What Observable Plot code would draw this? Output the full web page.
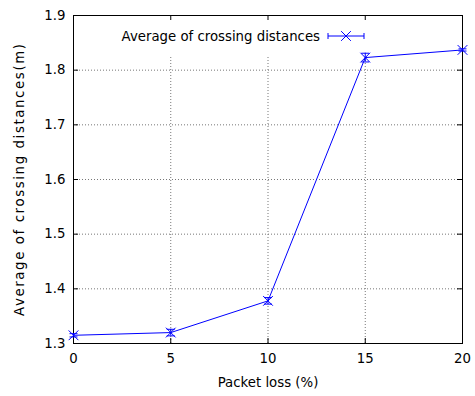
<!DOCTYPE html>
<html>
<head>
<meta charset="utf-8">
<script src="https://cdn.jsdelivr.net/npm/d3@7"></script>
<script src="https://cdn.jsdelivr.net/npm/@observablehq/plot@0.6"></script>
<style>
  html, body { margin: 0; padding: 0; background: #fff; }
  #chart svg { font-family: "DejaVu Sans", Verdana, sans-serif; }
</style>
</head>
<body>
<div id="chart"></div>
<script>
// Data
const packetLoss = [0, 5, 10, 15, 20];
const avgDistance = [1.315, 1.320, 1.378, 1.823, 1.837];
const errDistance = [0.003, 0.006, 0.006, 0.008, 0.002];
const xTicks = [0, 5, 10, 15, 20];
const yTicks = [1.3, 1.4, 1.5, 1.6, 1.7, 1.8, 1.9];
const seriesName = "Average of crossing distances";
const xLabel = "Packet loss (%)";
const yLabel = "Average of crossing distances(m)";

const data = packetLoss.map((x, i) => ({x, y: avgDistance[i], lo: avgDistance[i] - errDistance[i], hi: avgDistance[i] + errDistance[i]}));

const W = 475, H = 396, mL = 73, mR = 13, mT = 15, mB = 53;
const innerH = H - mT - mB;
const FS = 13.3;
const blue = "#0000ff";
const capSymbol = {draw(ctx, size) { const r = Math.sqrt(size) / 2; ctx.moveTo(-r, 0); ctx.lineTo(r, 0); }};
const tickLen = 5;

const plot = Plot.plot({
  width: W, height: H,
  marginLeft: mL, marginRight: mR, marginTop: mT, marginBottom: mB,
  style: {fontFamily: "DejaVu Sans, Verdana, sans-serif", fontSize: FS + "px", background: "#fff", color: "#000"},
  x: {domain: [0, 20]},
  y: {domain: [1.3, 1.9]},
  marks: [
    Plot.gridX(xTicks, {stroke: "#777", strokeOpacity: 1, strokeDasharray: "1,2"}),
    Plot.gridY(yTicks, {stroke: "#777", strokeOpacity: 1, strokeDasharray: "1,2"}),
    Plot.axisX({ticks: xTicks, tickSize: 0, tickPadding: 10, label: null, fontSize: FS, fill: "#000"}),
    Plot.axisY({ticks: yTicks, tickSize: 0, tickPadding: 8, label: null, fontSize: FS, fill: "#000", tickFormat: d3.format(".1f")}),
    Plot.ruleX(xTicks, {x: d => d, insetTop: innerH - tickLen, stroke: "#000"}),
    Plot.ruleX(xTicks, {x: d => d, insetBottom: innerH - tickLen, stroke: "#000"}),
    Plot.tickY(yTicks, {y: d => d, stroke: "#000", insetRight: (W - mL - mR) - tickLen}),
    Plot.tickY(yTicks, {y: d => d, stroke: "#000", insetLeft: (W - mL - mR) - tickLen}),
    Plot.frame({stroke: "#000", strokeWidth: 1}),
    Plot.line(data, {x: "x", y: "y", stroke: blue, strokeWidth: 1}),
    Plot.ruleX(data, {x: "x", y1: "lo", y2: "hi", stroke: blue, strokeWidth: 1}),
    Plot.dot(data, {x: "x", y: "lo", symbol: capSymbol, r: 4.5, stroke: blue, strokeWidth: 1}),
    Plot.dot(data, {x: "x", y: "hi", symbol: capSymbol, r: 4.5, stroke: blue, strokeWidth: 1}),
    Plot.dot(data, {x: "x", y: "y", symbol: "times", r: 4.5, stroke: blue, strokeWidth: 1})
  ]
});

document.getElementById("chart").appendChild(plot);
const svg = d3.select(plot);

// Legend (opaque key box covering grid)
const yGrid = plot.querySelector('[aria-label="y-grid"]');
const key = document.createElementNS("http://www.w3.org/2000/svg", "g");
if (yGrid && yGrid.nextSibling) plot.insertBefore(key, yGrid.nextSibling); else plot.appendChild(key);
const k = d3.select(key);
k.append("rect").attr("x", 110).attr("y", 16).attr("width", 265).attr("height", 39).attr("fill", "#fff");
const ky = 36;
svg.append("text").attr("x", 320).attr("y", ky).attr("dy", "0.35em").attr("text-anchor", "end")
  .attr("font-size", FS).attr("fill", "#000").text(seriesName);
const lg = svg.append("g").attr("stroke", blue).attr("fill", "none");
lg.append("line").attr("x1", 328).attr("x2", 364).attr("y1", ky).attr("y2", ky);
lg.append("line").attr("x1", 328).attr("x2", 328).attr("y1", ky - 3).attr("y2", ky + 3);
lg.append("line").attr("x1", 364).attr("x2", 364).attr("y1", ky - 3).attr("y2", ky + 3);
lg.append("path").attr("d", d3.symbol(d3.symbolTimes, 4.5 * 4.5 * Math.PI)()).attr("transform", `translate(346,${ky})`);

// Axis titles
svg.append("text").attr("x", 268).attr("y", 382).attr("dy", "0.35em").attr("text-anchor", "middle")
  .attr("font-size", FS).attr("fill", "#000").text(xLabel);
svg.append("text").attr("transform", "translate(19,180) rotate(-90)").attr("dy", "0.35em").attr("text-anchor", "middle")
  .attr("font-size", FS).attr("fill", "#000").attr("textLength", 272).attr("lengthAdjust", "spacing").text(yLabel);
</script>
</body>
</html>
